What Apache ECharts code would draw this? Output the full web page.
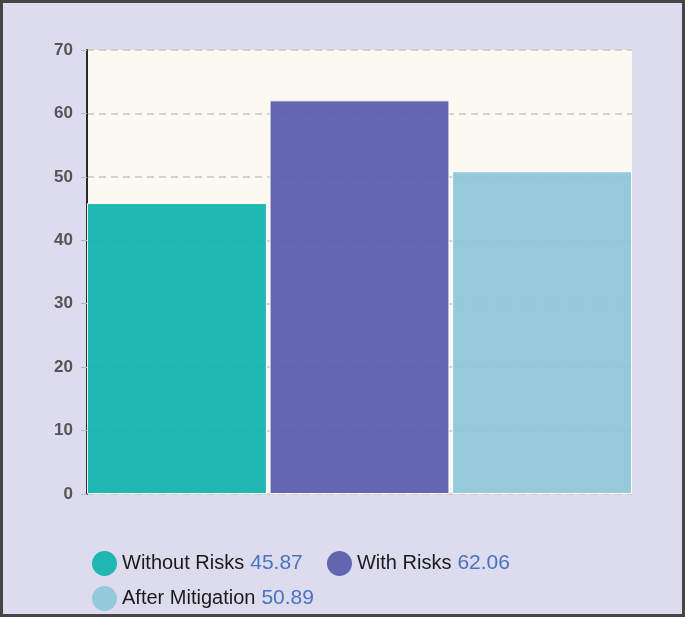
<!DOCTYPE html>
<html><head><meta charset="utf-8">
<script src="https://cdn.jsdelivr.net/npm/echarts@6/dist/echarts.min.js"></script>
<style>
html,body{margin:0;padding:0;background:#fff;}
#wrap{position:absolute;left:0;top:0;width:679px;height:611px;border:3px solid #454545;background:#dcdcee;}
#c{width:679px;height:611px;}
</style></head>
<body><div id="wrap"><div id="c"></div></div>
<script>
const categories = [''];
const seriesNames = ['Without Risks', 'With Risks', 'After Mitigation'];
const seriesValues = [45.87, 62.06, 50.89];
const seriesColors = ['#0fb2ad', '#575aaa', '#8dc6d9'];
const yTicks = [0, 10, 20, 30, 40, 50, 60, 70];

const chart = echarts.init(document.getElementById('c'));
const valueOf = {};
seriesNames.forEach((n, i) => valueOf[n] = seriesValues[i]);
chart.setOption({
  animation: false,
  grid: {left: 84, right: 50, top: 47, bottom: 120, show: true, backgroundColor: '#fcf9f0', borderWidth: 0},
  xAxis: {type: 'category', data: categories, axisLine: {show: false}, axisTick: {show: false}, axisLabel: {show: false}},
  yAxis: {
    type: 'value', min: yTicks[0], max: yTicks[yTicks.length - 1], interval: 10,
    axisLine: {show: true, lineStyle: {color: '#2a2a2a', width: 2}},
    axisTick: {show: true, length: 6, lineStyle: {color: '#b8b8c8'}},
    axisLabel: {color: '#555', fontSize: 17, fontWeight: 'bold', fontFamily: 'Liberation Sans, Arial', margin: 14},
    splitLine: {show: true, lineStyle: {color: '#c9c6be', type: [7, 5], width: 1.5}}
  },
  legend: {
    left: 89, top: 548, width: 480, orient: 'horizontal', padding: 0,
    itemWidth: 25, itemHeight: 25, itemGap: 10, itemTextGap: 6, icon: 'circle',
    itemStyle: {borderWidth: 0},
    data: seriesNames,
    formatter: n => '{n|' + n + '}{v|' + valueOf[n] + '}{s|\u00a0\u00a0\u00a0}',
    textStyle: {
      rich: {
        n: {color: '#1a1a1a', fontSize: 20, fontFamily: 'Liberation Sans, Arial'},
        v: {color: '#4a72c2', fontSize: 21, fontFamily: 'Liberation Sans, Arial', padding: [0, 0, 0, 6]},
        s: {fontSize: 17, fontFamily: 'Liberation Sans, Arial'}
      }
    }
  },
  series: seriesNames.map((n, i) => ({
    name: n, type: 'bar', data: [seriesValues[i]],
    barCategoryGap: '0%', barGap: '1.5%',
    itemStyle: {color: seriesColors[i], opacity: 0.92, borderColor: '#fff', borderWidth: 1}
  }))
});
</script></body></html>
